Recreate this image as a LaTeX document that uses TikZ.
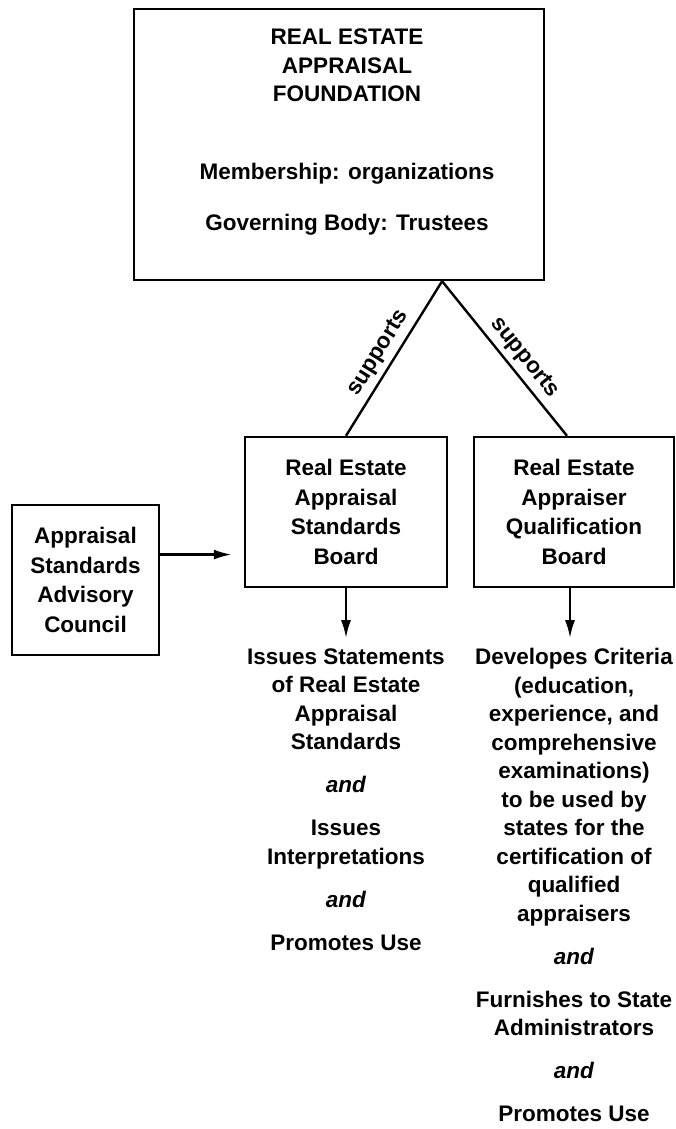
\documentclass[tikz,border=0pt]{standalone}
\usepackage{fontspec}
\setmainfont{Liberation Sans}
\usetikzlibrary{positioning,calc,arrows.meta}

\tikzset{
  words/.style={align=center, inner sep=0pt,
    font=\bfseries\fontsize{22.5}{28.5}\selectfont},
  board/.style={draw, line width=2.4pt, inner sep=0pt, align=center,
    font=\bfseries\fontsize{22.5}{29.5}\selectfont},
  feeds/.style={line width=2.4pt, -{Latex[length=18pt,width=10pt]}},
}
\newcommand{\andword}{\textit{and}}

\begin{document}
\begin{tikzpicture}[x=1pt,y=-1pt]
  \useasboundingbox (0,0) rectangle (676,1129);
  % boxes
  \node[board, minimum width=410pt, minimum height=271pt] (found) at (339,144.5) {};
  \node[words, below=21pt of found.north, xshift=8pt] (foundname)
    {REAL ESTATE\\APPRAISAL\\FOUNDATION\\[49pt]
     Membership: organizations\\[23pt]Governing Body: Trustees};
  \node[board, minimum width=202pt, minimum height=150pt] (asb) at (346,512)
    {Real Estate\\Appraisal\\Standards\\Board};
  \node[board, minimum width=200pt, minimum height=150pt] (aqb) at (574,512)
    {Real Estate\\Appraiser\\Qualification\\Board};
  \node[board, minimum width=147pt, minimum height=150pt] (asac) at (85.5,580)
    {Appraisal\\Standards\\Advisory\\Council};
  % what the boards do
  \node[words, below=60pt of asb.south] (asbtasks)
    {Issues Statements\\of Real Estate\\Appraisal\\Standards\\[14.5pt]
     \andword\\[14.5pt]Issues\\Interpretations\\[14.5pt]
     \andword\\[14.5pt]Promotes Use};
  \node[words, below=60pt of aqb.south] (aqbtasks)
    {Developes Criteria\\(education,\\experience, and\\comprehensive\\
     examinations)\\to be used by\\states for the\\certification of\\
     qualified\\appraisers\\[14.5pt]\andword\\[14.5pt]
     Furnishes to State\\Administrators\\[14.5pt]
     \andword\\[14.5pt]Promotes Use};
  \begin{scope}[line width=2.4pt]
    \coordinate (split) at ($(found.south west)!.75!(found.south east)$);
    \draw (asb.north) -- node[words, sloped, above=5pt, pos=.48] (sup1) {supports} (split);
    \draw (split) -- node[words, sloped, above=5pt, pos=.56] (sup2) {supports}
      ([xshift=-7pt]aqb.north);
    \coordinate (feed) at ($(asac.north east)!.333!(asac.south east)$);
    \draw[feeds, shorten >=12pt] (feed) -- (feed -| asb.west);
    \draw[feeds, shorten >=10pt] (asb) -- (asbtasks);
    \draw[feeds, shorten >=10pt] ([xshift=-4pt]aqb.south) -- ([xshift=-4pt]aqbtasks.north);
  \end{scope}
\end{tikzpicture}
\end{document}
